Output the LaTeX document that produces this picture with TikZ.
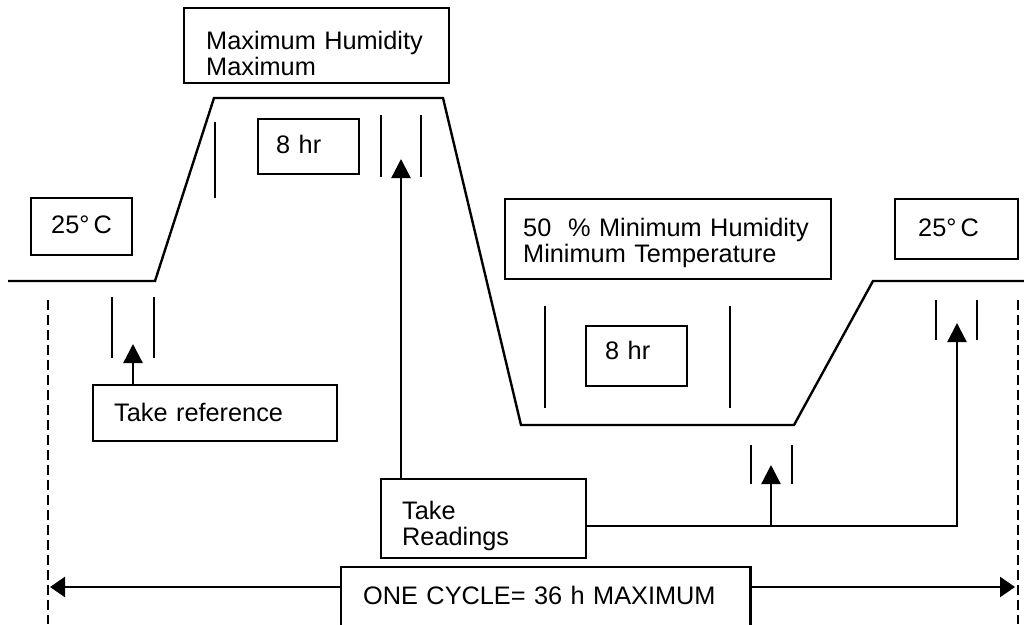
\documentclass[tikz,border=0pt]{standalone}
\usepackage{fontspec}
\setmainfont{Liberation Sans}
\usetikzlibrary{arrows.meta}

\begin{document}
\begin{tikzpicture}[x=0.025cm, y=-0.025cm]
    % Define line width
    \def\lineWidth{1.7pt}

    \tikzset{
        infoBox/.style={draw, line width=\lineWidth, anchor=north west, inner ysep=0pt, align=left, font=\fontsize{18}{19}\selectfont},
        markBar/.style={line width=\lineWidth},
        readArrow/.style={line width=\lineWidth, -{Triangle[length=0.475cm, width=0.475cm]}},
        cycleArrow/.style={line width=\lineWidth, -{Triangle[length=0.375cm, width=0.5cm]}},
        cycleEdge/.style={line width=\lineWidth, dash pattern=on 0.25cm off 0.125cm}
    }

    % Fix the picture size
    \useasboundingbox (0,0) rectangle (1024,624);
    \clip (0,0) rectangle (1024,624);

    % Draw the temperature profile
    \draw[line width=\lineWidth] (8,281) -- (155,281) -- (214,98) -- (443,98) -- (521,425) -- (794,425) -- (873,281) -- (1024,281);

    % Draw the dwell limits
    \draw[markBar] (215,122) -- (215,198);
    \draw[markBar] (545,306) -- (545,408) (730,306) -- (730,408);

    % Draw the labelled boxes
    \node[infoBox, inner xsep=0.55cm, text width=5.525cm, text height=1.025cm, text depth=0.85cm] (maxBox) at (183,7) {Maximum Humidity\\Maximum};
    \node[infoBox, inner xsep=0.5cm, text width=1.525cm, text height=0.875cm, text depth=0.55cm] (leftTemp) at (30,197) {25°\,C};
    \node[infoBox, inner xsep=0.575cm, text width=1.925cm, text height=0.925cm, text depth=0.575cm] (rightTemp) at (894,198) {25°\,C};
    \node[infoBox, inner xsep=0.45cm, text width=1.625cm, text height=0.85cm, text depth=0.525cm] (highHold) at (257,118) {8 hr};
    \node[infoBox, inner xsep=0.45cm, text width=7.25cm, text height=0.925cm, text depth=1.075cm] (minBox) at (504,198) {50\ \ \% Minimum Humidity\\Minimum Temperature};
    \node[infoBox, inner xsep=0.475cm, text width=1.575cm, text height=0.825cm, text depth=0.675cm] (lowHold) at (585,325) {8 hr};
    \node[infoBox, inner xsep=0.525cm, text width=5.05cm, text height=0.9cm, text depth=0.5cm] (refBox) at (92,384) {Take reference};
    \node[infoBox, inner xsep=0.525cm, text width=4.075cm, text height=1.0cm, text depth=0.975cm] (readBox) at (380,478) {Take\\Readings};
    \node[infoBox, inner xsep=0.55cm, text width=9.125cm, text height=0.925cm, text depth=1.2cm] (cycleBox) at (340,566) {ONE CYCLE= 36 h MAXIMUM};

    % Draw the reading markers
    \foreach \xl/\xr/\yt/\yb in {112/154/297/358, 381/421/115/177, 751/792/445/484, 936/977/300/340}
        \draw[markBar] (\xl,\yt) -- (\xl,\yb) (\xr,\yt) -- (\xr,\yb);

    % Define the marker tips
    \coordinate (refTip) at (133,344);
    \coordinate (highTip) at (401,159);
    \coordinate (lowTip) at (771,465);
    \coordinate (endTip) at (957,323);
    \coordinate (wireEnd) at (957,526);
    \coordinate (wireSplit) at (771,526);

    % Draw the reading arrows
    \draw[readArrow] (refBox.north -| refTip) -- (refTip);
    \draw[readArrow] (readBox.north -| highTip) -- (highTip);
    \draw[readArrow] (readBox.east |- wireEnd) -- (wireEnd) -- (endTip);
    \draw[readArrow] (wireSplit) -- (lowTip);

    % Draw the cycle span
    \coordinate (cycleStart) at (50,587);
    \coordinate (cycleEnd) at (1015,587);
    \draw[cycleEdge] (48,300) -- (48,624);
    \draw[cycleEdge] (1018,300) -- (1018,624);
    \draw[cycleArrow] (cycleBox.west |- cycleStart) -- (cycleStart);
    \draw[cycleArrow] (cycleBox.east |- cycleEnd) -- (cycleEnd);

\end{tikzpicture}
\end{document}
